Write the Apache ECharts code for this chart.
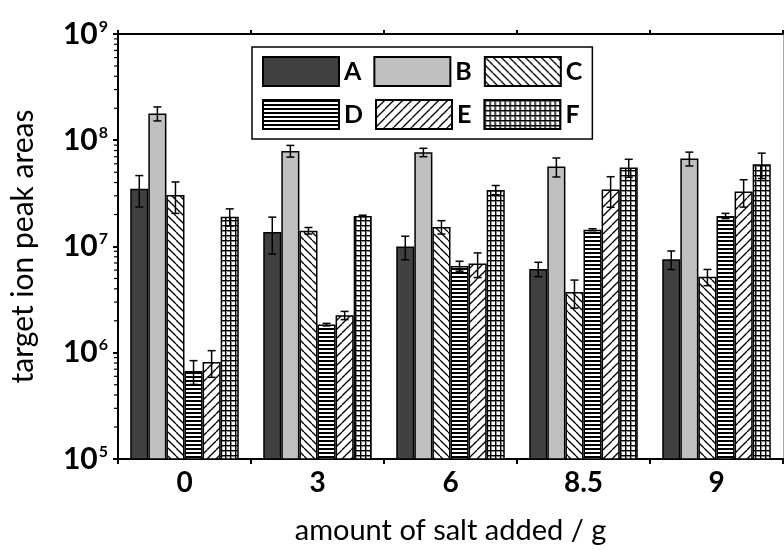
<!DOCTYPE html>
<html>
<head>
<meta charset="utf-8">
<script src="https://cdn.jsdelivr.net/npm/echarts@6/dist/echarts.min.js"></script>
<style>html,body{margin:0;padding:0;background:#fff}#chart{width:784px;height:550px}</style>
</head>
<body>
<div id="chart"></div>
<script>
const categories = ['0', '3', '6', '8.5', '9'];
const seriesNames = ['A', 'B', 'C', 'D', 'E', 'F'];
const valuesA = [3.5e7, 1.37e7, 1.0e7, 6.15e6, 7.57e6];
const errA    = [1.15e7, 5.2e6, 2.5e6, 9.5e5, 1.5e6];
const valuesB = [1.79e8, 7.94e7, 7.7e7, 5.66e7, 6.73e7];
const errB    = [2.7e7, 1.0e7, 7.0e6, 1.15e7, 1.0e7];
const valuesC = [3.05e7, 1.41e7, 1.53e7, 3.73e6, 5.18e6];
const errC    = [1.0e7, 1.0e6, 2.2e6, 1.1e6, 9.0e5];
const valuesD = [6.73e5, 1.84e6, 6.56e6, 1.44e7, 1.94e7];
const errD    = [1.7e5, 5.0e4, 7.0e5, 3.0e5, 1.1e6];
const valuesE = [8.17e5, 2.25e6, 6.9e6, 3.44e7, 3.3e7];
const errE    = [2.3e5, 2.0e5, 1.8e6, 1.1e7, 9.5e6];
const valuesF = [1.91e7, 1.94e7, 3.41e7, 5.55e7, 5.96e7];
const errF    = [3.5e6, 3.0e5, 3.4e6, 1.07e7, 1.6e7];
const yTickValues = [1e5, 1e6, 1e7, 1e8, 1e9];
const minorTickValues = [];
for (let e = 5; e < 9; e++) for (let m = 2; m <= 9; m++) minorTickValues.push(m * Math.pow(10, e));

const allValues = [valuesA, valuesB, valuesC, valuesD, valuesE, valuesF];
const allErrs = [errA, errB, errC, errD, errE, errF];
const GAP = 0.184;

function pattern(kind) {
  const c = document.createElement('canvas');
  let s = 8;
  if (kind === 'D') s = 4;
  if (kind === 'F') s = 5;
  if (kind === 'E') s = 9;
  c.width = s; c.height = s;
  const g = c.getContext('2d');
  g.fillStyle = '#fff'; g.fillRect(0, 0, s, s);
  g.strokeStyle = '#000'; g.fillStyle = '#000';
  if (kind === 'C') {
    g.lineWidth = 1.3;
    for (let k = -1; k <= 1; k++) { g.beginPath(); g.moveTo(k * s, 0); g.lineTo(k * s + s, s); g.stroke(); }
  } else if (kind === 'E') {
    g.lineWidth = 1.3;
    for (let k = -1; k <= 1; k++) { g.beginPath(); g.moveTo(k * s, s); g.lineTo(k * s + s, 0); g.stroke(); }
  } else if (kind === 'D') {
    g.fillRect(0, 0, s, 2);
  } else if (kind === 'F') {
    g.fillRect(0, 0, s, 1); g.fillRect(0, 0, 1, s);
    g.fillStyle = '#888'; g.fillRect(1, 1, s - 1, 1); g.fillRect(1, 1, 1, s - 1);
  }
  return { image: c, repeat: 'repeat' };
}

const fills = ['#404040', '#c0c0c0', pattern('C'), pattern('D'), pattern('E'), pattern('F')];

const series = [];
seriesNames.forEach((n, i) => {
  series.push({
    type: 'bar', name: n, data: allValues[i],
    barGap: '0%', barCategoryGap: (GAP * 100) + '%',
    itemStyle: { color: fills[i], borderColor: '#000', borderWidth: 1.5 },
    z: 2
  });
});
seriesNames.forEach((n, i) => {
  series.push({
    type: 'custom', name: n + '_err', z: 5, silent: true,
    data: allValues[i].map((v, k) => [k, v, allErrs[i][k]]),
    renderItem: function (params, api) {
      const k = api.value(0), v = api.value(1), e = api.value(2);
      const band = api.coord([1, v])[0] - api.coord([0, v])[0];
      const bw = band * (1 - GAP) / 6;
      const x = api.coord([k, v])[0] + (i - 2.5) * bw;
      const yt = api.coord([k, v + e])[1];
      const yb = api.coord([k, v - e])[1];
      const st = { stroke: '#000', lineWidth: 1.5 };
      const cw = 4;
      return { type: 'group', children: [
        { type: 'line', shape: { x1: x, y1: yt, x2: x, y2: yb }, style: st },
        { type: 'line', shape: { x1: x - cw, y1: yt, x2: x + cw, y2: yt }, style: st },
        { type: 'line', shape: { x1: x - cw, y1: yb, x2: x + cw, y2: yb }, style: st }
      ]};
    }
  });
});
series.push({
  type: 'custom', name: 'minorTicks', silent: true, clip: false, z: 6,
  data: minorTickValues.map(v => [0, v]),
  renderItem: function (params, api) {
    const y = api.coord([0, api.value(1)])[1];
    const x0 = params.coordSys.x;
    return { type: 'line', shape: { x1: x0 - 4, y1: y, x2: x0, y2: y }, style: { stroke: '#000', lineWidth: 1.2 } };
  }
});

const chart = echarts.init(document.getElementById('chart'), null, { renderer: 'canvas' });
chart.setOption({
  animation: false,
  backgroundColor: '#fff',
  grid: { left: 110, right: 1, top: 34, bottom: 86 },
  legend: {
    data: seriesNames, left: 252, top: 47, width: 335,
    itemWidth: 76, itemHeight: 29, itemGap: 12,
    padding: [9, 10, 9, 10], borderColor: '#000', borderWidth: 1.5,
    backgroundColor: '#fff', icon: 'rect',
    textStyle: { fontFamily: 'Lato', fontWeight: 'bold', fontSize: 25, color: '#000', width: 20 }
  },
  xAxis: [{
    type: 'category', data: categories, position: 'bottom',
    axisLine: { lineStyle: { color: '#000', width: 2 } },
    axisTick: { show: true, length: 5, lineStyle: { color: '#000', width: 2 } },
    axisLabel: { fontFamily: 'Lato', fontWeight: 'bold', fontSize: 28, color: '#000', margin: 10 },
    name: 'amount of salt added / g', nameLocation: 'middle', nameGap: 57,
    nameTextStyle: { fontFamily: 'Lato', fontSize: 29, color: '#000' }
  }, {
    type: 'category', data: categories, position: 'top',
    axisLine: { lineStyle: { color: '#000', width: 2 } },
    axisTick: { show: true, length: 4, lineStyle: { color: '#000', width: 2 } },
    axisLabel: { show: false }
  }],
  yAxis: [{
    type: 'log', logBase: 10, min: 1e5, max: 1e9,
    axisLine: { show: true, lineStyle: { color: '#000', width: 2 } },
    axisTick: { show: true, length: 5, lineStyle: { color: '#000', width: 2 } },
    splitLine: { show: false },
    axisLabel: {
      margin: 10, color: '#000',
      formatter: v => '{b|10}{s|' + Math.round(Math.log10(v)) + '}',
      rich: {
        b: { fontFamily: 'Lato', fontWeight: 'bold', fontSize: 30, color: '#000' },
        s: { fontFamily: 'Lato', fontWeight: 'bold', fontSize: 16, color: '#000', padding: [0, 0, 15, 1] }
      }
    },
    name: 'target ion peak areas', nameLocation: 'middle', nameGap: 80,
    nameTextStyle: { fontFamily: 'Lato', fontSize: 30, color: '#000' }
  }, {
    type: 'log', logBase: 10, min: 1e5, max: 1e9, position: 'right',
    axisLine: { show: true, lineStyle: { color: '#aaa', width: 1 } },
    axisTick: { show: false }, axisLabel: { show: false }, splitLine: { show: false }
  }],
  series: series
});
</script>
</body>
</html>
